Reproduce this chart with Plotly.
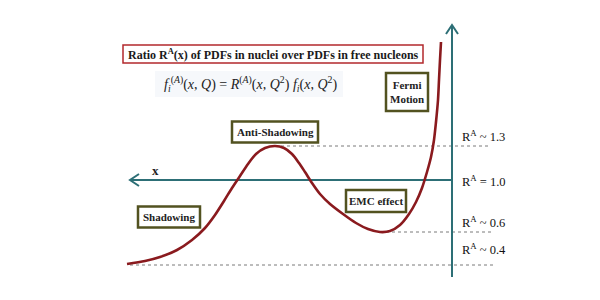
import plotly.graph_objects as go

# Schematic nuclear modification ratio R^A(x); drawing units on a 600 x 300 canvas
curve_x = [127, 145, 160, 177, 192, 205, 215, 224, 232, 240, 248, 256, 265, 275,
           284, 292, 299, 305, 312, 320, 330, 343, 356, 368, 380, 390, 400, 409,
           416, 422, 427, 431, 434, 436, 438, 439, 440, 441]
curve_y = [264, 261, 257, 250, 240, 228, 215, 201, 188, 176, 164, 154, 148, 146,
           148, 154, 163, 172, 183, 194, 204, 214, 223, 229, 232, 231, 225, 214,
           202, 188, 172, 157, 140, 122, 100, 80, 60, 42]

# Reference levels: label, vertical position, dashed-line start / end
level_labels = ["R<sup>A</sup> ~ 1.3", "R<sup>A</sup> = 1.0", "R<sup>A</sup> ~ 0.6", "R<sup>A</sup> ~ 0.4"]
level_y = [146, 180, 232, 265]
level_label_y = [136, 181, 222, 249]
level_x0 = [275, None, 380, 130]
level_x1 = [489, None, 491, 493]

# Region labels inside boxes: text, centre x, centre y, half width, half height
region_text = ["Anti-Shadowing", "Shadowing", "EMC effect", "Fermi<br>Motion"]
region_cx = [275, 169, 376, 407]
region_cy = [132, 217, 201, 92]
region_hw = [43, 31, 30, 21]
region_hh = [10.5, 10.5, 11, 19]

axis_x = 452
axis_top, axis_bottom = 25, 277
xaxis_left = 130
xaxis_y = 180
head_len, head_half = 9, 6

SERIF = "Liberation Serif"
TEAL = "#2d6f76"
CURVE = "#8a1a1e"
BOX = "#525220"
DOTS = "#7a7a7a"

fig = go.Figure()

# dotted reference levels
for x0, x1, y in zip(level_x0, level_x1, level_y):
    if x0 is None:
        continue
    fig.add_trace(go.Scatter(x=[x0, x1], y=[y, y], mode="lines",
                             line=dict(color=DOTS, width=1, dash="dot"),
                             hoverinfo="skip", showlegend=False))

# axes: horizontal x axis pointing left, vertical axis pointing up
fig.add_trace(go.Scatter(x=[axis_x, xaxis_left], y=[xaxis_y, xaxis_y], mode="lines",
                         line=dict(color=TEAL, width=2), hoverinfo="skip", showlegend=False))
fig.add_trace(go.Scatter(x=[xaxis_left + head_len, xaxis_left, xaxis_left + head_len],
                         y=[xaxis_y - head_half, xaxis_y, xaxis_y + head_half], mode="lines",
                         line=dict(color=TEAL, width=2), hoverinfo="skip", showlegend=False))
fig.add_trace(go.Scatter(x=[axis_x, axis_x], y=[axis_bottom, axis_top], mode="lines",
                         line=dict(color=TEAL, width=2), hoverinfo="skip", showlegend=False))
fig.add_trace(go.Scatter(x=[axis_x - head_half, axis_x, axis_x + head_half],
                         y=[axis_top + head_len, axis_top, axis_top + head_len], mode="lines",
                         line=dict(color=TEAL, width=2), hoverinfo="skip", showlegend=False))

# the ratio curve
fig.add_trace(go.Scatter(x=curve_x, y=curve_y, mode="lines",
                         line=dict(color=CURVE, width=2.6, shape="spline", smoothing=0.8),
                         hoverinfo="skip", showlegend=False))

annotations = []
annotations.append(dict(x=155, y=170, xref="x", yref="y", text="<b>x</b>", showarrow=False,
                        font=dict(family=SERIF, size=13, color="#222")))

for lab, y in zip(level_labels, level_label_y):
    annotations.append(dict(x=460, y=y, xref="x", yref="y", text=lab, showarrow=False,
                            xanchor="left", font=dict(family=SERIF, size=12.5, color="#111")))

shapes = []
for t, cx, cy, hw, hh in zip(region_text, region_cx, region_cy, region_hw, region_hh):
    shapes.append(dict(type="rect", xref="x", yref="y", x0=cx - hw, x1=cx + hw,
                       y0=cy - hh, y1=cy + hh, line=dict(color=BOX, width=2.5),
                       fillcolor="white", layer="above"))
    annotations.append(dict(x=cx, y=cy, xref="x", yref="y", text="<b>" + t + "</b>",
                            showarrow=False, font=dict(family=SERIF, size=11, color="#222")))

# title box
shapes.append(dict(type="rect", xref="x", yref="y", x0=123, x1=423, y0=45, y1=63,
                   line=dict(color="#b2282c", width=1.5), fillcolor="white"))
annotations.append(dict(x=273, y=54, xref="x", yref="y",
                        text="<b>Ratio R<sup>A</sup>(x) of PDFs in nuclei over PDFs in free nucleons</b>",
                        showarrow=False, font=dict(family=SERIF, size=12, color="#1a1a1a")))

# formula panel
shapes.append(dict(type="rect", xref="x", yref="y", x0=155, x1=343, y0=71, y1=97,
                   line=dict(width=0), fillcolor="#f6f8fb", layer="below"))
formula = ("<i>f</i><sub><i>i</i></sub><sup>(<i>A</i>)</sup>(<i>x</i>, <i>Q</i>) = "
           "<i>R</i><sup>(<i>A</i>)</sup>(<i>x</i>, <i>Q</i><sup>2</sup>) "
           "<i>f</i><sub><i>i</i></sub>(<i>x</i>, <i>Q</i><sup>2</sup>)")
annotations.append(dict(x=250, y=84, xref="x", yref="y", text=formula, showarrow=False,
                        font=dict(family=SERIF, size=14, color="#222")))

fig.update_layout(
    width=600, height=300,
    margin=dict(l=0, r=0, t=0, b=0),
    paper_bgcolor="white", plot_bgcolor="white",
    xaxis=dict(range=[0, 600], visible=False, fixedrange=True),
    yaxis=dict(range=[300, 0], visible=False, fixedrange=True),
    shapes=shapes, annotations=annotations,
)

fig.write_html("out.html")
